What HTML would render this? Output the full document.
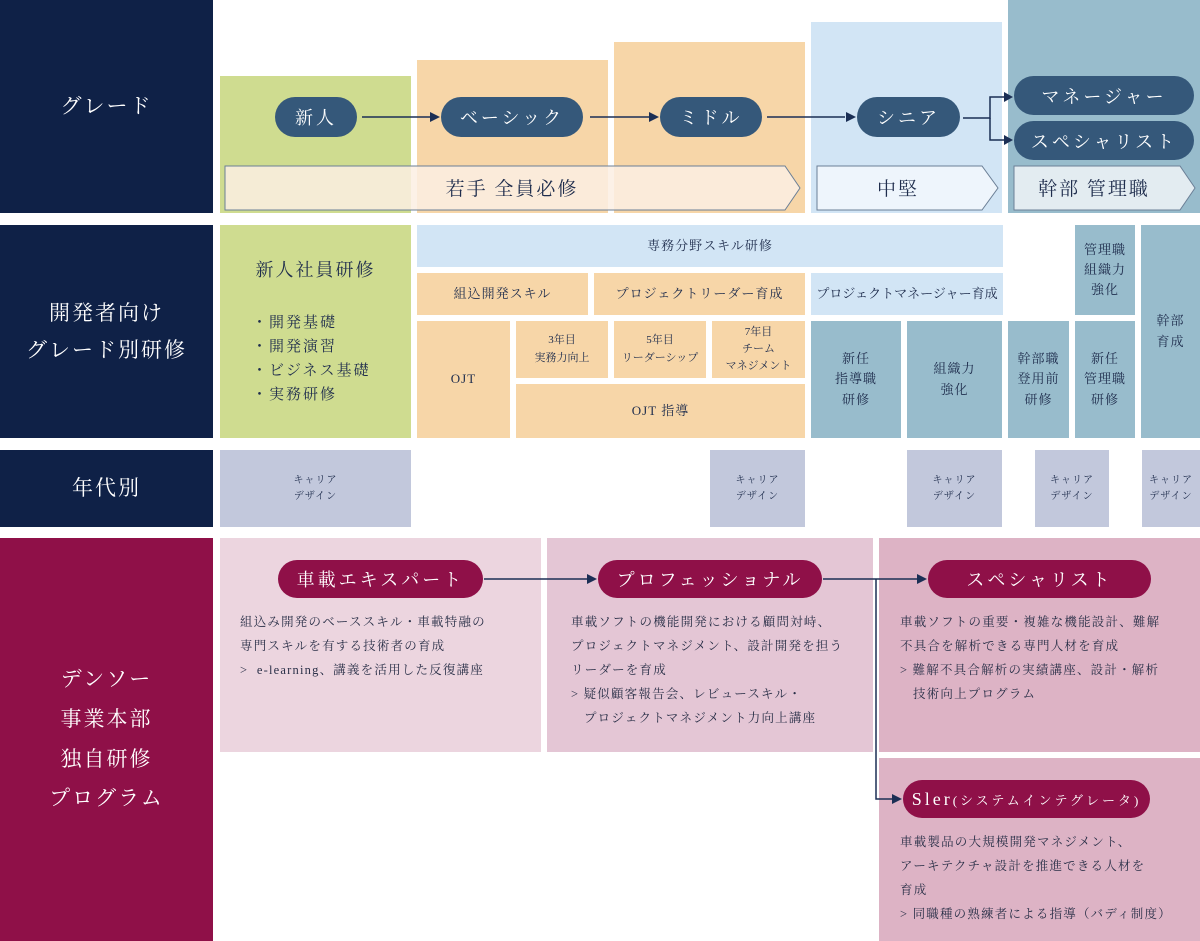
<!DOCTYPE html>
<html><head><meta charset="utf-8"><style>
*{margin:0;padding:0;box-sizing:border-box}
body{width:1200px;height:941px;position:relative;background:#fff;overflow:hidden;font-family:"Liberation Serif","Noto Serif CJK SC","Noto Sans CJK JP",serif;color:#1f2d4d}
.b{position:absolute;display:flex;align-items:center;justify-content:center;text-align:center;line-height:1.55}
.nv{background:#0f2147;color:#fff;font-size:21px;letter-spacing:2px}
.mr{background:#8f1048;color:#fff;font-size:21px;letter-spacing:2px;line-height:1.9}
.g{background:#cfdc90}.p{background:#f7d6a8}.lb{background:#d2e5f5}.st{background:#98bccc}.gr{background:#c2c8dc;font-size:10px;letter-spacing:1px}
.pill{position:absolute;display:flex;align-items:center;justify-content:center;background:#35587a;color:#fff;border-radius:20px;font-size:18px;letter-spacing:3px}
.mp{position:absolute;display:flex;align-items:center;justify-content:center;background:#8f1048;color:#fff;border-radius:20px;font-size:18px;letter-spacing:3px}
.t13{font-size:13px;letter-spacing:1px}
.t11{font-size:11px}
.txt{position:absolute;font-size:12.5px;line-height:24px;letter-spacing:1.2px;color:#2a3048}
</style></head><body>
<div class="b nv" style="left:0;top:0;width:213px;height:213px">グレード</div>
<div class="b nv" style="left:0;top:225px;width:213px;height:213px;line-height:1.75">開発者向け<br>グレード別研修</div>
<div class="b nv" style="left:0;top:450px;width:213px;height:77px">年代別</div>
<div class="b mr" style="left:0;top:538px;width:213px;height:403px">デンソー<br>事業本部<br>独自研修<br>プログラム</div>

<div class="b g" style="left:220px;top:76px;width:191px;height:137px"></div>
<div class="b p" style="left:417px;top:60px;width:191px;height:153px"></div>
<div class="b p" style="left:614px;top:42px;width:191px;height:171px"></div>
<div class="b lb" style="left:811px;top:22px;width:191px;height:191px"></div>
<div class="b st" style="left:1008px;top:0;width:192px;height:213px"></div>

<svg style="position:absolute;left:0;top:0" width="1200" height="941">
<polygon points="225,166 785,166 800,188 785,210 225,210" fill="#fbefe3" fill-opacity="0.85" stroke="#6b7f96" stroke-width="1"/>
<polygon points="817,166 982,166 998,188 982,210 817,210" fill="#eef5fc" stroke="#6b7f96" stroke-width="1"/>
<polygon points="1014,166 1180,166 1195,188 1180,210 1014,210" fill="#e3ecf1" stroke="#6b7f96" stroke-width="1"/>
<g stroke="#1b2f55" stroke-width="1.5" fill="none">
<line x1="362" y1="117" x2="430" y2="117"/><line x1="590" y1="117" x2="650" y2="117"/><line x1="767" y1="117" x2="845" y2="117"/>
<polyline points="963,118 990,118 990,97 1005,97"/><polyline points="990,118 990,140 1005,140"/>
</g>
<g fill="#1b2f55">
<polygon points="440,117 430,112 430,122"/><polygon points="659,117 649,112 649,122"/><polygon points="856,117 846,112 846,122"/>
<polygon points="1013,97 1004,92 1004,102"/><polygon points="1013,140 1004,135 1004,145"/>
</g>
<text x="512" y="195" font-size="19" text-anchor="middle" fill="#1f2d4d" letter-spacing="2" font-family="Liberation Serif, Noto Serif CJK SC, serif">若手 全員必修</text>
<text x="898" y="195" font-size="19" text-anchor="middle" fill="#1f2d4d" letter-spacing="2" font-family="Liberation Serif, Noto Serif CJK SC, serif">中堅</text>
<text x="1094" y="195" font-size="19" text-anchor="middle" fill="#1f2d4d" letter-spacing="2" font-family="Liberation Serif, Noto Serif CJK SC, serif">幹部 管理職</text>
</svg>

<div class="pill" style="left:275px;top:97px;width:82px;height:40px">新人</div>
<div class="pill" style="left:441px;top:97px;width:142px;height:40px">ベーシック</div>
<div class="pill" style="left:660px;top:97px;width:102px;height:40px">ミドル</div>
<div class="pill" style="left:857px;top:97px;width:103px;height:40px">シニア</div>
<div class="pill" style="left:1014px;top:76px;width:180px;height:39px">マネージャー</div>
<div class="pill" style="left:1014px;top:121px;width:180px;height:39px">スペシャリスト</div>

<div class="b g" style="left:220px;top:225px;width:191px;height:213px;display:block;text-align:left">
<div style="font-size:18px;letter-spacing:2px;text-align:center;margin-top:32px">新人社員研修</div>
<div style="font-size:15px;letter-spacing:2px;line-height:24px;margin:26px 0 0 32px">・開発基礎<br>・開発演習<br>・ビジネス基礎<br>・実務研修</div></div>
<div class="b lb t13" style="left:417px;top:225px;width:586px;height:42px">専務分野スキル研修</div>
<div class="b p t13" style="left:417px;top:273px;width:171px;height:42px">組込開発スキル</div>
<div class="b p t13" style="left:594px;top:273px;width:211px;height:42px">プロジェクトリーダー育成</div>
<div class="b lb" style="left:811px;top:273px;width:192px;height:42px;font-size:13px;letter-spacing:0;white-space:nowrap">プロジェクトマネージャー育成</div>
<div class="b p t13" style="left:417px;top:321px;width:93px;height:117px">OJT</div>
<div class="b p t11" style="left:516px;top:321px;width:92px;height:57px">3年目<br>実務力向上</div>
<div class="b p t11" style="left:614px;top:321px;width:92px;height:57px">5年目<br>リーダーシップ</div>
<div class="b p t11" style="left:712px;top:321px;width:93px;height:57px">7年目<br>チーム<br>マネジメント</div>
<div class="b p t13" style="left:516px;top:384px;width:289px;height:54px">OJT 指導</div>
<div class="b st t13" style="left:811px;top:321px;width:90px;height:117px">新任<br>指導職<br>研修</div>
<div class="b st t13" style="left:907px;top:321px;width:95px;height:117px">組織力<br>強化</div>
<div class="b st t13" style="left:1008px;top:321px;width:61px;height:117px">幹部職<br>登用前<br>研修</div>
<div class="b st t13" style="left:1075px;top:225px;width:60px;height:90px">管理職<br>組織力<br>強化</div>
<div class="b st t13" style="left:1075px;top:321px;width:60px;height:117px">新任<br>管理職<br>研修</div>
<div class="b st t13" style="left:1141px;top:225px;width:59px;height:213px">幹部<br>育成</div>

<div class="b gr" style="left:220px;top:450px;width:191px;height:77px">キャリア<br>デザイン</div>
<div class="b gr" style="left:710px;top:450px;width:95px;height:77px">キャリア<br>デザイン</div>
<div class="b gr" style="left:907px;top:450px;width:95px;height:77px">キャリア<br>デザイン</div>
<div class="b gr" style="left:1035px;top:450px;width:74px;height:77px">キャリア<br>デザイン</div>
<div class="b gr" style="left:1142px;top:450px;width:58px;height:77px">キャリア<br>デザイン</div>

<div class="b" style="left:220px;top:538px;width:321px;height:214px;background:#ecd5df"></div>
<div class="b" style="left:547px;top:538px;width:326px;height:214px;background:#e4c6d5"></div>
<div class="b" style="left:879px;top:538px;width:321px;height:214px;background:#ddb3c5"></div>
<div class="b" style="left:879px;top:758px;width:321px;height:183px;background:#ddb3c5"></div>
<svg style="position:absolute;left:0;top:0" width="1200" height="941"><g stroke="#1b2f55" stroke-width="1.5" fill="none"><line x1="484" y1="579" x2="588" y2="579"/><line x1="823" y1="579" x2="918" y2="579"/><polyline points="876,579 876,799 893,799"/></g><g fill="#1b2f55"><polygon points="597,579 587,574 587,584"/><polygon points="927,579 917,574 917,584"/><polygon points="902,799 892,794 892,804"/></g></svg>

<div class="mp" style="left:278px;top:560px;width:205px;height:38px">車載エキスパート</div>
<div class="mp" style="left:598px;top:560px;width:224px;height:38px">プロフェッショナル</div>
<div class="mp" style="left:928px;top:560px;width:223px;height:38px">スペシャリスト</div>
<div class="mp" style="left:903px;top:780px;width:247px;height:38px">Sler<span style="font-size:13px">(システムインテグレータ)</span></div>

<div class="txt" style="left:240px;top:610px">組込み開発のベーススキル・車載特融の<br>専門スキルを有する技術者の育成<br>&gt;&nbsp; e-learning、講義を活用した反復講座</div>
<div class="txt" style="left:571px;top:610px">車載ソフトの機能開発における顧問対峙、<br>プロジェクトマネジメント、設計開発を担う<br>リーダーを育成<br>&gt; 疑似顧客報告会、レビュースキル・<br>&nbsp;&nbsp;&nbsp;プロジェクトマネジメント力向上講座</div>
<div class="txt" style="left:900px;top:610px">車載ソフトの重要・複雑な機能設計、難解<br>不具合を解析できる専門人材を育成<br>&gt; 難解不具合解析の実績講座、設計・解析<br>&nbsp;&nbsp;&nbsp;技術向上プログラム</div>
<div class="txt" style="left:900px;top:830px">車載製品の大規模開発マネジメント、<br>アーキテクチャ設計を推進できる人材を<br>育成<br>&gt; 同職種の熟練者による指導（バディ制度）</div>
</body></html>
